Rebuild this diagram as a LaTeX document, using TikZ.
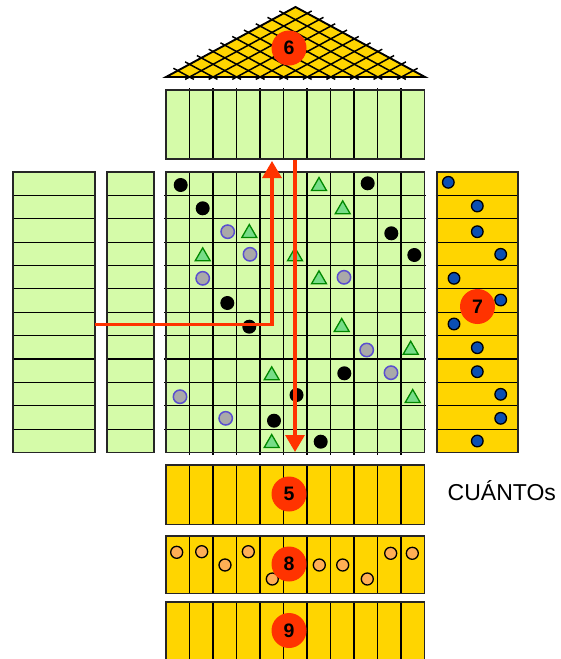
\documentclass[tikz,border=0pt]{standalone}
\usepackage{fontspec}
\setmainfont{Liberation Sans}
\usetikzlibrary{arrows.meta}
\definecolor{hgreen}{HTML}{D5FBA9}
\definecolor{hyellow}{HTML}{FFD500}
\definecolor{hred}{HTML}{FF3300}
\definecolor{trifill}{HTML}{77DD88}
\definecolor{triline}{HTML}{008800}
\definecolor{gfill}{HTML}{A9A9A9}
\definecolor{gline}{HTML}{5A4FCF}
\definecolor{bdot}{HTML}{0B4FB3}
\definecolor{odot}{HTML}{FFAE55}
\begin{document}
\begin{tikzpicture}[x=1pt,y=-1pt,
  gridline/.style={draw=black, line width=1.2pt},
  frame/.style={draw=black!85, line width=1.9pt},
  roofline/.style={draw=black, line width=1.5pt, shorten <=-5pt, shorten >=-5pt},
  badge/.style={circle, fill=hred, minimum size=35pt, inner sep=0pt, font=\bfseries\fontsize{19.5}{19.5}\selectfont},
  blackdot/.style={fill=black},
  graydot/.style={fill=gfill, draw=gline, line width=1.5pt},
  tristyle/.style={fill=trifill, draw=triline, line width=1.3pt, line join=miter},
  bluedot/.style={fill=bdot, draw=black, line width=1.3pt},
  orangedot/.style={fill=odot, draw=black, line width=1.3pt},
  redarrow/.style={draw=hred, line width=3.3pt, line join=miter, -{Triangle[length=17pt,width=19pt]}}
]
\useasboundingbox (0,0) rectangle (560,659);
\clip (0,0) rectangle (560,659);

% ---------- roof ----------
\fill[hyellow] (166,77) -- (295.5,7) -- (425,77) -- cycle;
\foreach \k in {1,...,10} {
  \pgfmathsetmacro\xk{166+23.545*\k}
  \pgfmathsetmacro\xm{(\xk+425)/2}
  \pgfmathsetmacro\ym{77-(425-\xk)/2*70/129.5}
  \pgfmathsetmacro\xn{(\xk+166)/2}
  \pgfmathsetmacro\yn{77-(\xk-166)/2*70/129.5}
  \draw[roofline] (\xk,77) -- (\xm,\ym);
  \draw[roofline] (\xk,77) -- (\xn,\yn);
}
\draw[frame, draw=black, line join=miter] (166,77) -- (295.5,7) -- (425,77) -- cycle;

% ---------- top matrix ----------
\fill[hgreen] (166,90) rectangle (424.5,159);
\foreach \k in {1,...,10} \draw[gridline] ({166+23.5*\k},88) -- ({166+23.5*\k},159);
\draw[frame] (166,90) rectangle (424.5,159);

% ---------- central matrix ----------
\fill[hgreen] (166,172) rectangle (424.5,452.5);
\foreach \k in {1,...,10} \draw[gridline] ({166+23.5*\k},172) -- ({166+23.5*\k},455);
\foreach \k in {1,...,11} \draw[gridline] (164,{172+23.375*\k}) -- (426,{172+23.375*\k});
\draw[frame] (166,172) rectangle (424.5,452.5);

% ---------- left columns ----------
\fill[hgreen] (13,172) rectangle (95,452.5);
\foreach \k in {1,...,11} \draw[gridline] (12,{172+23.375*\k}) -- (96,{172+23.375*\k});
\draw[frame] (13,172) rectangle (95,452.5);
\fill[hgreen] (107,172) rectangle (154,452.5);
\foreach \k in {1,...,11} \draw[gridline] (106,{172+23.375*\k}) -- (155,{172+23.375*\k});
\draw[frame] (107,172) rectangle (154,452.5);

% ---------- right column ----------
\fill[hyellow] (436.7,172) rectangle (517.7,452.5);
\foreach \k in {1,...,11} \draw[gridline] (435.5,{172+23.375*\k}) -- (519,{172+23.375*\k});
\draw[frame] (436.7,172) rectangle (517.7,452.5);

% ---------- bottom rows ----------
\foreach \ya/\yb in {465/524.5, 536/593.5, 602/664} {
  \fill[hyellow] (166,\ya) rectangle (424.5,\yb);
  \foreach \k in {1,...,10} \draw[gridline] ({166+23.5*\k},\ya) -- ({166+23.5*\k},\yb);
  \draw[frame] (166,\ya) rectangle (424.5,\yb);
}

% ---------- symbols in central matrix ----------
\foreach \p in {(180.7,185),(202.7,208.3),(227.3,303),(367.7,183.3),(391.3,233.3),(414.3,255),(249.3,326.7),(296.5,395),(274,420.7),(344.3,373.3),(320.7,441.7)}
  \fill[blackdot] \p circle (7pt);
\foreach \p in {(227.7,231.7),(250,254.3),(202.7,278.3),(344,277.3),(180,396.7),(225.7,418.3),(366.7,350),(391,372.7)}
  \draw[graydot] \p circle (6.7pt);
\foreach \p in {(249.3,231),(202.7,254.3),(295,254.3),(319,184),(342.7,207.3),(319,277.3),(271.7,373.3),(271.7,441),(341.7,325),(410.7,347.7),(412.7,396)}
  \draw[tristyle, shift={\p}] (-7.5,6.5) -- (0,-6.5) -- (7.5,6.5) -- cycle;

% ---------- blue dots in right column ----------
\foreach \p in {(448.3,182.3),(477.3,206),(477.3,231.7),(500.7,254.3),(454,278.3),(500.7,300),(454,324),(477.3,347.7),(477.3,371.7),(500.7,394.3),(500.7,418.3),(477.3,441)}
  \draw[bluedot] \p circle (5.8pt);

% ---------- orange dots ----------
\foreach \p in {(176.7,552.3),(201.7,551.7),(225,565),(248.3,551.7),(272.3,579),(319.3,565),(342.7,565),(367.3,579),(390.7,553.3),(412.3,553.3)}
  \draw[orangedot] \p circle (6pt);

% ---------- red arrows ----------
\coordinate (a1s) at (95,324.3);
\coordinate (a1c) at (272,324.3);
\coordinate (a1e) at (272,161);
\draw[redarrow] (a1s) -- (a1c) -- (a1e);
\coordinate (a2s) at (295,160);
\coordinate (a2e) at (295,452);
\draw[redarrow] (a2s) -- (a2e);

% ---------- badges ----------
\node[badge] (n6) at (289,48) {6};
\node[badge] (n7) at (477.5,306.5) {7};
\node[badge] (n5) at (289,494) {5};
\node[badge] (n8) at (289,564) {8};
\node[badge] (n9) at (289,630.5) {9};

% ---------- label ----------
\node[anchor=base west, inner sep=0pt, font=\fontsize{23}{23}\selectfont] (cuantos) at (447.5,500.5) {CUÁNTOs};
\end{tikzpicture}
\end{document}
